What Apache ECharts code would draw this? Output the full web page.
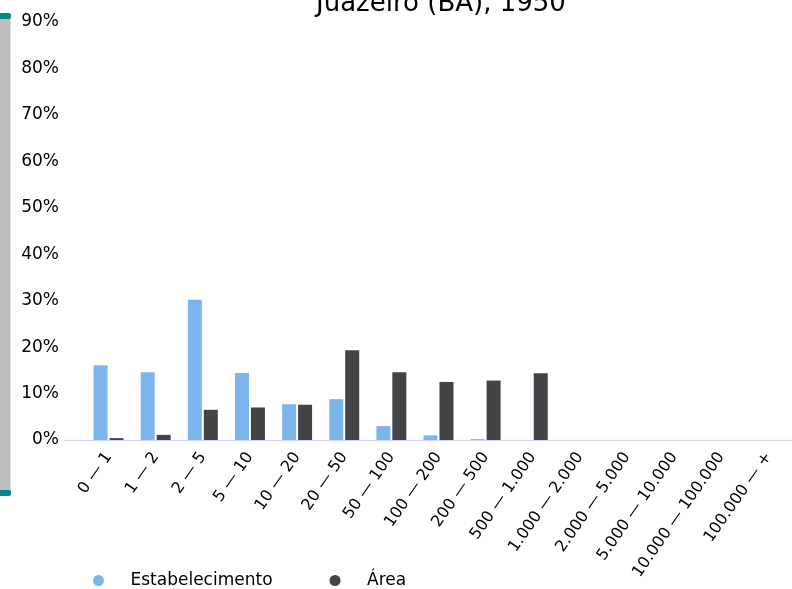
<!DOCTYPE html>
<html><head><meta charset="utf-8">
<script src="https://cdn.jsdelivr.net/npm/echarts@6/dist/echarts.min.js"></script>
<style>html,body{margin:0;padding:0;background:#fff}#c{width:792px;height:589px}</style>
</head><body><div id="c"></div>
<script>
const categories = ["0 — 1","1 — 2","2 — 5","5 — 10","10 — 20","20 — 50","50 — 100","100 — 200","200 — 500","500 — 1.000","1.000 — 2.000","2.000 — 5.000","5.000 — 10.000","10.000 — 100.000","100.000 — +"];
const estabelecimento = [16.1,14.6,30.2,14.4,7.7,8.8,3.0,1.0,0.2,0,0,0,0,0,0];
const area = [0.4,1.1,6.5,7.0,7.6,19.3,14.6,12.5,12.8,14.35,0,0,0,0,0];
const yTicks = [0,10,20,30,40,50,60,70,80,90];
const titleText = "Juazeiro (BA), 1950";
const seriesNames = ["Estabelecimento","Área"];

const chart = echarts.init(document.getElementById('c'));
const font = 'DejaVu Sans';
chart.setOption({
  animation:false,
  textStyle:{fontFamily:font},
  title:{text:titleText,left:311,top:-14,textStyle:{fontFamily:font,fontSize:26,fontWeight:'normal',color:'#000'}},
  legend:{left:88,top:567,icon:'circle',itemWidth:54,itemHeight:11,itemGap:57,
    textStyle:{fontFamily:font,fontSize:17,color:'#000'},data:seriesNames},
  grid:[{left:85,right:-6,top:22,bottom:149},{left:64,right:0,top:22,bottom:149}],
  xAxis:[{type:'category',data:categories,gridIndex:0,
    axisLine:{lineStyle:{color:'#ccd6eb',width:1}},axisTick:{show:false},
    axisLabel:{interval:0,rotate:55,fontFamily:font,fontSize:16,color:'#000',margin:14}},
    {type:'value',gridIndex:1,axisLine:{show:true,onZero:false,lineStyle:{color:'#ccd6eb'}},axisTick:{show:false},axisLabel:{show:false},splitLine:{show:false}}],
  yAxis:[{type:'value',gridIndex:0,min:yTicks[0],max:yTicks[yTicks.length-1],interval:10,offset:20,
    axisLabel:{formatter:'{value}%',fontFamily:font,fontSize:17,color:'#000',margin:6},
    splitLine:{show:false},axisLine:{show:false},axisTick:{show:false}},
    {type:'value',gridIndex:1,show:false}],
  dataZoom:[{type:'slider',orient:'vertical',yAxisIndex:0,left:-10,width:20,top:15,bottom:95,start:0,end:100,
    showDataShadow:false,showDetail:false,brushSelect:false,moveHandleSize:0,
    backgroundColor:'rgba(0,0,0,0)',borderColor:'rgba(0,0,0,0)',fillerColor:'#bdbdbd',
    handleIcon:'path://M2,0 L8,0 Q10,0 10,2 L10,38 Q10,40 8,40 L2,40 Q0,40 0,38 L0,2 Q0,0 2,0 Z',handleSize:'100%',
    handleStyle:{color:'#008b8b',borderColor:'#008b8b'}}],
  series:[
    {name:seriesNames[0],type:'bar',data:estabelecimento,barWidth:14,barGap:'14%',itemStyle:{color:'#7cb5ec'}},
    {name:seriesNames[1],type:'bar',data:area,barWidth:14,barGap:'14%',itemStyle:{color:'#434348'}}
  ]
});
</script></body></html>
